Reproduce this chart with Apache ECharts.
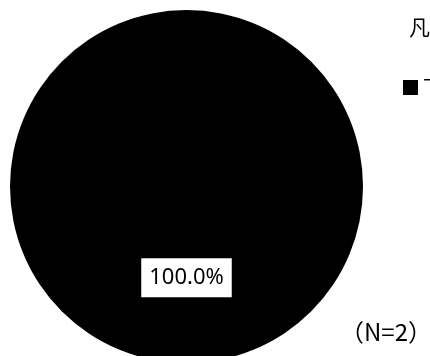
<!DOCTYPE html>
<html><head><meta charset="utf-8">
<script src="https://cdn.jsdelivr.net/npm/echarts@6/dist/echarts.min.js"></script>
<style>html,body{margin:0;padding:0;background:#fff}#c{width:430px;height:356px}</style>
</head><body><div id="c"></div>
<script>
const categories = ['下水道'];
const values = [2];
const legendTitle = '凡例';
const sampleNote = '（N=2）';

const chart = echarts.init(document.getElementById('c'), null, {renderer: 'canvas'});
chart.setOption({
  animation: false,
  backgroundColor: '#ffffff',
  color: ['#000000'],
  legend: {
    orient: 'vertical', left: 403, top: 77, padding: 0, icon: 'rect', itemWidth: 15, itemHeight: 15, itemGap: 10,
    textStyle: {fontFamily: 'Noto Sans CJK JP', fontSize: 21, color: '#000'},
    data: categories
  },
  graphic: [
    {type: 'text', left: 409, top: 17, style: {text: legendTitle, fontSize: 21, fontFamily: 'Noto Sans CJK JP', fill: '#000'}},
    {type: 'text', left: 340, top: 320, style: {text: sampleNote, fontSize: 24, fontFamily: 'Noto Sans CJK JP', fill: '#000'}}
  ],
  series: [{
    type: 'pie', center: [186.5, 186.5], radius: 176.5, startAngle: 90,
    itemStyle: {color: '#000'},
    label: {
      position: 'inside', formatter: p => p.percent.toFixed(1) + '%',
      backgroundColor: '#fff', padding: [9, 8, 8, 8], color: '#000',
      fontSize: 22, fontFamily: 'Noto Sans'
    },
    labelLine: {show: false},
    emphasis: {disabled: true},
    data: categories.map((n, i) => ({name: n, value: values[i]}))
  }]
});
</script></body></html>
